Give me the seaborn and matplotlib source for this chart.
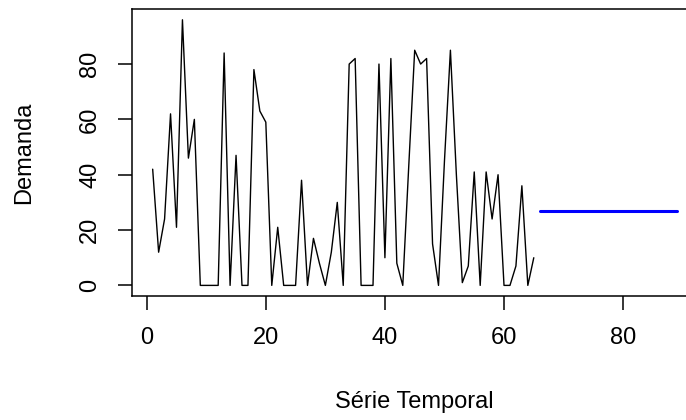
import numpy as np
import pandas as pd
import matplotlib
matplotlib.use("Agg")
import matplotlib.pyplot as plt
import seaborn as sns

sns.set_style("white")
plt.rcParams['font.family'] = ['Liberation Sans', 'DejaVu Sans']

# observed demand (time index 1..65)
demanda = [42, 12, 24, 62, 21, 96, 46, 60, 0, 0,
           0, 0, 84, 0, 47, 0, 0, 78, 63, 59,
           0, 21, 0, 0, 0, 38, 0, 17, 8, 0,
           12, 30, 0, 80, 82, 0, 0, 0, 80, 10,
           82, 8, 0, 43, 85, 80, 82, 15, 0, 45,
           85, 40, 1, 7, 41, 0, 41, 24, 40, 0,
           0, 7, 36, 0, 10]
# forecast (time index 66..89)
previsao = [26.9, 26.9, 26.9, 26.9, 26.9, 26.9, 26.9, 26.9,
            26.9, 26.9, 26.9, 26.9, 26.9, 26.9, 26.9, 26.9,
            26.9, 26.9, 26.9, 26.9, 26.9, 26.9, 26.9, 26.9]
xticks = [0, 20, 40, 60, 80]
yticks = [0, 20, 40, 60, 80]

df_obs = pd.DataFrame({'t': np.arange(1, len(demanda) + 1), 'y': demanda})
df_fc = pd.DataFrame({'t': np.arange(len(demanda) + 1, len(demanda) + len(previsao) + 1), 'y': previsao})

fig = plt.figure(figsize=(6.86, 4.2), dpi=100)
ax = fig.add_axes([0.192, 0.2952, 0.825, 0.683])

sns.lineplot(data=df_obs, x='t', y='y', color='black', linewidth=1.0, ax=ax)
sns.lineplot(data=df_fc, x='t', y='y', color='#0000FF', linewidth=2.2, ax=ax)

# R style 4% padding
xmin, xmax = 1, 89
ymin, ymax = 0, max(demanda)
ax.set_xlim(xmin - 0.04 * (xmax - xmin), xmax + 0.04 * (xmax - xmin))
ax.set_ylim(ymin - 0.04 * (ymax - ymin), ymax + 0.04 * (ymax - ymin))

ax.set_xticks(xticks)
ax.set_yticks(yticks)
ax.tick_params(axis='both', direction='out', length=10, width=1.1, colors='black',
               labelsize=17, pad=12, bottom=True, left=True)
for lab in ax.get_yticklabels():
    lab.set_rotation(90)
    lab.set_va('center')

for s in ax.spines.values():
    s.set_color('black')
    s.set_linewidth(1.1)

ax.set_xlabel('Série Temporal', fontsize=17, color='black')
ax.set_ylabel('Demanda', fontsize=17, color='black', va='center')
ax.xaxis.set_label_coords(0.5, -0.33)
ax.yaxis.set_label_coords(-0.19, 0.5)

fig.savefig('out.png', dpi=100)
